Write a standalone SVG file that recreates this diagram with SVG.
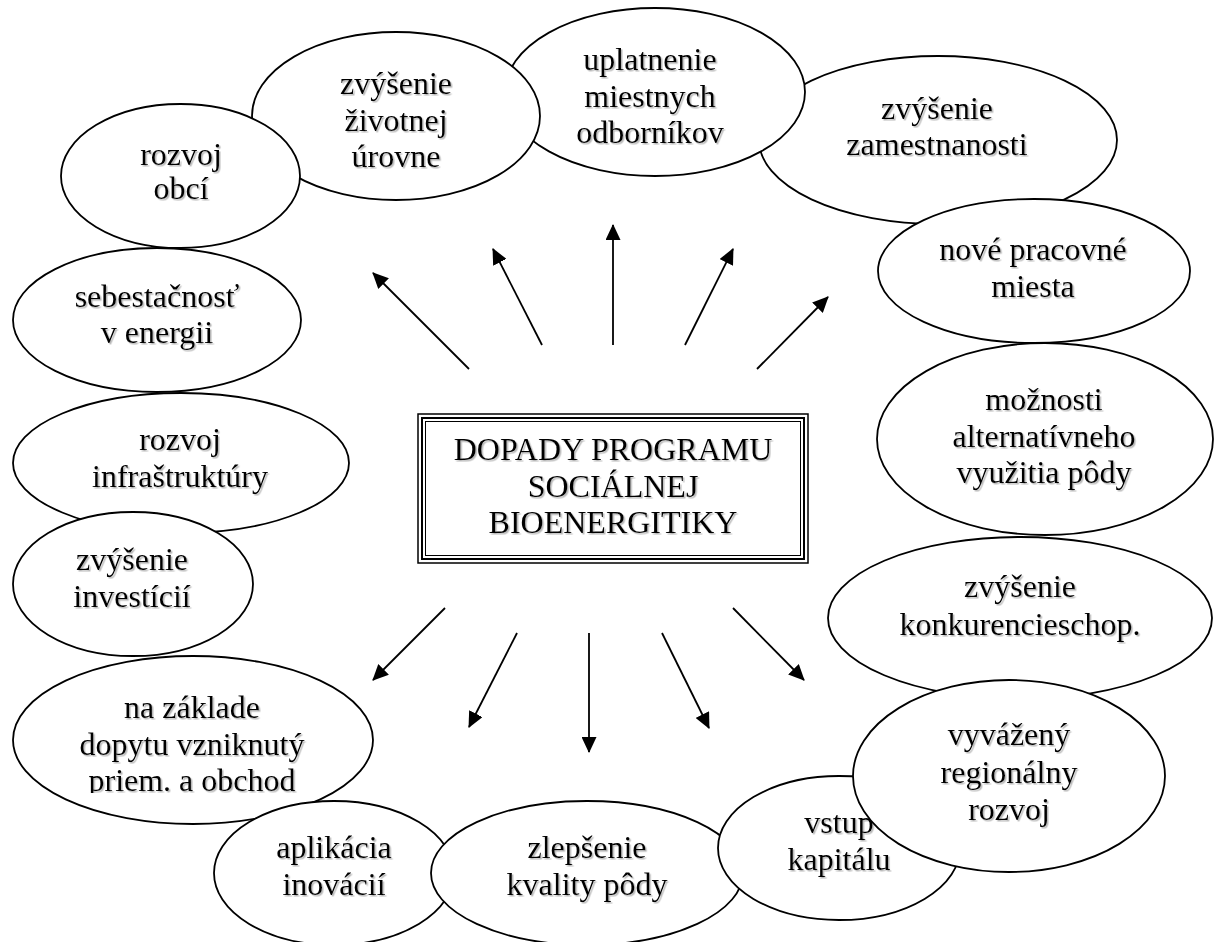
<svg xmlns="http://www.w3.org/2000/svg" width="1216" height="942" viewBox="0 0 1216 942">
<style>
.e{fill:#fff;stroke:#000;stroke-width:1.8}
.t{font-family:"Liberation Serif","Times New Roman",serif;font-size:32px;fill:#000;text-anchor:middle;filter:url(#sh)}
.c{stroke:#000;stroke-width:1.8;fill:none;marker-end:url(#ah)}
</style>
<defs>
<filter id="sh" x="-10%" y="-20%" width="120%" height="150%">
<feDropShadow dx="1.5" dy="1.5" stdDeviation="0.7" flood-color="#888" flood-opacity="0.6"/>
</filter>
<marker id="ah" viewBox="0 0 16 15" refX="15" refY="7.5" markerWidth="16" markerHeight="15" markerUnits="userSpaceOnUse" orient="auto">
<path d="M0,0 L16,7.5 L0,15 z" fill="#000"/>
</marker>
<clipPath id="clipNa"><rect x="0" y="650" width="400" height="143"/></clipPath>
</defs>
<rect width="1216" height="942" fill="#fff"/>

<g id="n-zamestnanosti"><ellipse class="e" cx="938" cy="140" rx="179" ry="84"/><text class="t" x="937" y="119">zvýšenie</text><text class="t" x="937" y="155">zamestnanosti</text></g>
<g id="n-uplatnenie"><ellipse class="e" cx="655" cy="92" rx="150" ry="84"/><text class="t" x="650" y="70">uplatnenie</text><text class="t" x="650" y="107">miestnych</text><text class="t" x="650" y="143">odborníkov</text></g>
<g id="n-zivotnej"><ellipse class="e" cx="396" cy="116" rx="144" ry="84"/><text class="t" x="396" y="94">zvýšenie</text><text class="t" x="396" y="131">životnej</text><text class="t" x="396" y="167">úrovne</text></g>
<g id="n-obci"><ellipse class="e" cx="180.5" cy="176" rx="119.5" ry="72"/><text class="t" x="181" y="165">rozvoj</text><text class="t" x="181" y="199">obcí</text></g>
<g id="n-nove"><ellipse class="e" cx="1034" cy="271" rx="156" ry="72"/><text class="t" x="1033" y="260">nové pracovné</text><text class="t" x="1033" y="297">miesta</text></g>
<g id="n-moznosti"><ellipse class="e" cx="1045" cy="439" rx="168" ry="96"/><text class="t" x="1044" y="410">možnosti</text><text class="t" x="1044" y="447">alternatívneho</text><text class="t" x="1044" y="483">využitia pôdy</text></g>
<g id="n-konkurencie"><ellipse class="e" cx="1020" cy="618" rx="192" ry="81"/><text class="t" x="1020" y="597">zvýšenie</text><text class="t" x="1020" y="635">konkurencieschop.</text></g>
<g id="n-nazaklade"><ellipse class="e" cx="193" cy="740" rx="180" ry="84"/><g clip-path="url(#clipNa)"><text class="t" x="192" y="718">na základe</text><text class="t" x="192" y="755">dopytu vzniknutý</text><text class="t" x="192" y="791">priem. a obchod</text></g></g>
<g id="n-aplikacia"><ellipse class="e" cx="334" cy="873" rx="120" ry="72"/><text class="t" x="334" y="858">aplikácia</text><text class="t" x="334" y="895">inovácií</text></g>
<g id="n-zlepsenie"><ellipse class="e" cx="587" cy="873" rx="156" ry="72"/><text class="t" x="587" y="858">zlepšenie</text><text class="t" x="587" y="895">kvality pôdy</text></g>
<g id="n-vstup"><ellipse class="e" cx="839" cy="848" rx="121" ry="72"/><text class="t" x="839" y="833">vstup</text><text class="t" x="839" y="870">kapitálu</text></g>
<g id="n-vyvazeny"><ellipse class="e" cx="1009" cy="776" rx="156" ry="96"/><text class="t" x="1009" y="745">vyvážený</text><text class="t" x="1009" y="783">regionálny</text><text class="t" x="1009" y="820">rozvoj</text></g>
<g id="n-sebestacnost"><ellipse class="e" cx="157" cy="320" rx="144" ry="72"/><text class="t" x="157" y="307">sebestačnosť</text><text class="t" x="157" y="343">v energii</text></g>
<g id="n-infra"><ellipse class="e" cx="181" cy="463" rx="168" ry="70"/><text class="t" x="180" y="450">rozvoj</text><text class="t" x="180" y="487">infraštruktúry</text></g>
<g id="n-investicii"><ellipse class="e" cx="133" cy="584" rx="120" ry="72"/><text class="t" x="132" y="570">zvýšenie</text><text class="t" x="132" y="607">investícií</text></g>

<g id="n-center">
<rect x="418" y="414" width="390" height="149" fill="#fff" stroke="#000" stroke-width="1.5"/>
<rect x="422" y="418" width="382" height="141" fill="none" stroke="#000" stroke-width="2"/>
<rect x="425.5" y="421.5" width="375" height="134" fill="none" stroke="#000" stroke-width="1"/>
<text class="t" x="613" y="460">DOPADY PROGRAMU</text>
<text class="t" x="613" y="497">SOCIÁLNEJ</text>
<text class="t" x="613" y="533">BIOENERGITIKY</text>
</g>

<g id="connectors">
<line class="c" x1="469" y1="369" x2="373" y2="273"/>
<line class="c" x1="542" y1="345" x2="493" y2="249"/>
<line class="c" x1="613" y1="345" x2="613" y2="225"/>
<line class="c" x1="685" y1="345" x2="733" y2="249"/>
<line class="c" x1="757" y1="369" x2="828" y2="297"/>
<line class="c" x1="445" y1="608" x2="373" y2="680"/>
<line class="c" x1="517" y1="633" x2="469" y2="727"/>
<line class="c" x1="589" y1="633" x2="589" y2="752"/>
<line class="c" x1="662" y1="633" x2="709" y2="728"/>
<line class="c" x1="733" y1="608" x2="804" y2="680"/>
</g>
</svg>
